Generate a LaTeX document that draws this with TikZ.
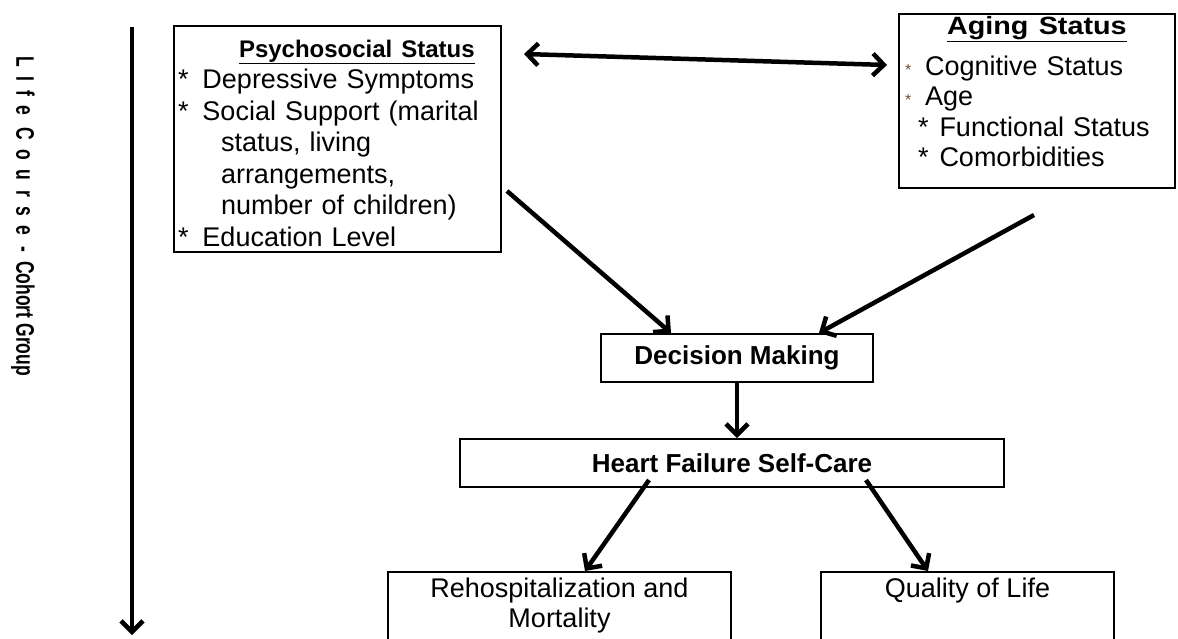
\documentclass[tikz,border=0pt]{standalone}
\usepackage{fontspec}
\usepackage{graphicx}
\setmainfont{Liberation Sans}
\usetikzlibrary{arrows.meta}
\definecolor{starbrown}{RGB}{110,80,45}

\begin{document}
\begin{tikzpicture}[x=1pt,y=-1pt,>={Straight Barb[length=11pt,width=22pt]},
  arr/.style={->,line width=4.5pt},
  box/.style={draw,line width=2pt,inner sep=0pt},
  body/.style={font=\fontsize{27}{31.5}\selectfont},
  head/.style={font=\fontsize{26}{30}\selectfont\bfseries}]
\useasboundingbox (0,0) rectangle (1178,638);

\node[box,body,anchor=north west,align=left,text width=319pt,inner xsep=4pt,inner ysep=6pt,text height=25pt,text depth=189pt] (psych) at (173,25)
  {\hspace*{61pt}{\fontsize{24}{31.5}\selectfont\bfseries\underline{Psychosocial Status}}\\
   {*}\hspace{14pt}Depressive Symptoms\\
   {*}\hspace{14pt}Social Support (marital\\
   \hspace*{43pt}status, living\\
   \hspace*{43pt}arrangements,\\
   \hspace*{43pt}number of children)\\
   {*}\hspace{14pt}Education Level};
\node[box,anchor=north west,align=left,text width=264pt,inner xsep=6pt,inner ysep=2pt,text height=18pt,text depth=152pt,font=\fontsize{27}{30.5}\selectfont] (aging) at (898,13)
  {\hspace*{42pt}\scalebox{1.15}[1]{\fontsize{25}{30}\selectfont\bfseries\underline{Aging Status}}\\[10.5pt]
   \makebox[20pt][l]{\fontsize{16}{16}\selectfont\color{starbrown}*}Cognitive Status\\
   \makebox[20pt][l]{\fontsize{16}{16}\selectfont\color{starbrown}*}Age\\
   \hspace*{13pt}{*}\hspace{11pt}Functional Status\\
   \hspace*{13pt}{*}\hspace{11pt}Comorbidities};
\node[box,head,minimum width=272pt,minimum height=48pt] (decision) at (737,358) {Decision Making};
\node[box,head,minimum width=544pt,minimum height=48pt] (selfcare) at (732,463) {Heart Failure Self-Care};
\node[box,anchor=north,align=center,minimum width=343pt,inner ysep=6pt,text depth=40pt,font=\fontsize{27}{30}\selectfont] (rehosp) at (559.5,571)
  {Rehospitalization and\\Mortality};
\node[box,anchor=north,minimum width=293pt,inner ysep=6pt,text depth=70pt,font=\fontsize{27}{30}\selectfont] (qol) at (967.5,571)
  {Quality of Life};

% life course axis
\coordinate (top) at (132,27);
\coordinate (bottom) at (132,635);
\draw[arr] (top) -- (bottom);
\node[rotate=-90,font=\fontsize{17.5}{20}\selectfont\bfseries] (lifecourse) at (23,216)
  {\scalebox{1}[1.45]{L\hspace{9.5pt}I\hspace{9.5pt}f\hspace{9.5pt}e\hspace{12pt}C\hspace{9.5pt}o\hspace{9.5pt}u\hspace{9.5pt}r\hspace{9.5pt}s\hspace{9.5pt}e\hspace{11pt}-\hspace{9pt}Cohort Group}};

\path[arr]
  ([xshift=22pt,yshift=-29pt]psych.north east) edge[<->] ([xshift=-11pt,yshift=-52pt]aging.north west)
  ([xshift=5pt,yshift=62pt]psych.south east) edge ([xshift=71pt]decision.north west)
  ([xshift=136pt,yshift=-26pt]aging.south west) edge ([xshift=-55pt]decision.north east)
  (decision.south) edge (decision.south |- selfcare.north)
  ([xshift=190pt,yshift=8pt]selfcare.south west) edge ([xshift=198pt]rehosp.north west)
  ([xshift=-139pt,yshift=8pt]selfcare.south east) edge ([xshift=108pt]qol.north west);
\end{tikzpicture}
\end{document}
